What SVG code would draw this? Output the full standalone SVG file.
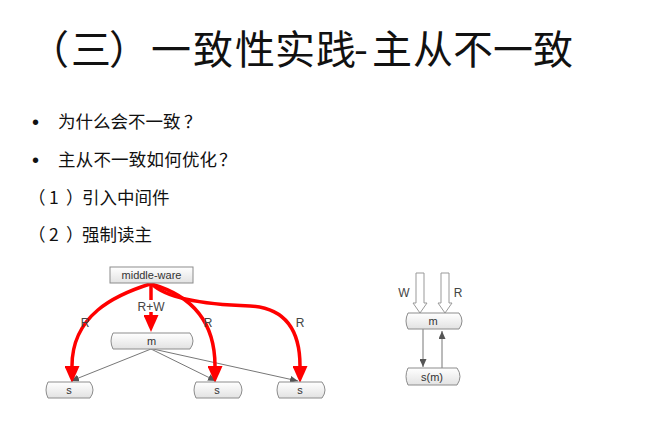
<svg xmlns="http://www.w3.org/2000/svg" width="660" height="438" viewBox="0 0 660 438">
<defs>
<linearGradient id="g" x1="0" y1="0" x2="0" y2="1">
<stop offset="0" stop-color="#ffffff"/>
<stop offset="1" stop-color="#e2e2e2"/>
</linearGradient>
<marker id="red" markerUnits="userSpaceOnUse" markerWidth="17" markerHeight="15" refX="0" refY="7.5" orient="auto" viewBox="0 0 17 15">
<path d="M0,0 L17,7.5 L0,15 Z" fill="#ff0000"/>
</marker>
<marker id="gray" markerUnits="userSpaceOnUse" markerWidth="8" markerHeight="7" refX="8" refY="3.5" orient="auto" viewBox="0 0 8 7">
<path d="M0,0 L8,3.5 L0,7 Z" fill="#555"/>
</marker>
</defs>
<style>
.cjk{font-family:"Noto Sans CJK SC","Noto Sans",sans-serif;fill:#111}
.dot{font-family:"Liberation Sans",Arial,sans-serif;font-size:20px;fill:#111}
.lbl{font-family:"Liberation Sans",Arial,sans-serif;font-size:12px;fill:#444;text-anchor:middle}
.nt{font-family:"Liberation Sans",Arial,sans-serif;font-size:11px;fill:#333;text-anchor:middle}
.box{fill:url(#g);stroke:#8c8c8c;stroke-width:1}
.red{fill:none;stroke:#ff0000;stroke-width:3.5;marker-end:url(#red)}
.thin{fill:none;stroke:#777;stroke-width:1;marker-end:url(#gray)}
.hollow{fill:#fff;stroke:#999;stroke-width:1}
</style>
<rect width="660" height="438" fill="#fff"/>

<g id="title">
<text class="cjk" font-size="40" x="29 71 109 151 193 235 275 316 354 372 413 453 493 533" y="64">（三）一致性实践-主从不一致</text>
</g>

<g id="bullets">
<text class="dot" x="32" y="129">•</text>
<text class="cjk" font-size="17.5" x="58 75.5 93 110.5 128 145.5 163 184" y="128">为什么会不一致？</text>
<text class="dot" x="32" y="167">•</text>
<text class="cjk" font-size="17.5" x="58 75.7 93.4 111.1 128.8 146.5 164.2 181.9 199.6 219" y="166">主从不一致如何优化？</text>
<text class="cjk" font-size="17.5" x="28 49 66 82" y="204">（1）引入中间件</text>
<text class="cjk" font-size="17.5" x="28 49 66 82" y="241">（2）强制读主</text>
</g>

<g id="connectors">
<line class="thin" x1="151" y1="349" x2="71" y2="381"/>
<line class="thin" x1="151" y1="349" x2="216" y2="381"/>
<line class="thin" x1="153" y1="349" x2="298" y2="381"/>
<path class="red" d="M150,284 C115,295 72,315 72,366"/>
<path class="red" d="M151,284 C190,295 215,320 215,366"/>
<path class="red" d="M152,284 C170,302 220,305 250,306 C285,308 300,330 300,366"/>
<path class="red" d="M151,283 L151,315"/>
<line class="thin" x1="423" y1="329" x2="423" y2="367"/>
<line class="thin" x1="442" y1="368" x2="442" y2="331"/>
<polygon class="hollow" points="416,273 424,273 424,303 427,303 420,313 413,303 416,303"/>
<polygon class="hollow" points="441,273 449,273 449,303 452,303 445,313 438,303 441,303"/>
</g>

<g id="labels">
<text class="lbl" x="85" y="327">R</text>
<rect x="137" y="300" width="28" height="12" fill="#fff"/>
<text class="lbl" x="151" y="311">R+W</text>
<text class="lbl" x="208" y="327">R</text>
<text class="lbl" x="300" y="327">R</text>
<text class="lbl" x="404" y="297">W</text>
<text class="lbl" x="458" y="297">R</text>
</g>

<g id="node-middleware">
<rect class="box" x="110" y="267" width="83" height="16"/>
<text class="nt" x="151.5" y="279" font-size="10.5">middle-ware</text>
</g>

<g id="node-m">
<path class="box" d="M113,333 H190 Q196,341 190,349 H113 Q109,341 113,333 Z"/>
<text class="nt" x="151.5" y="345" fill="#4a3030">m</text>
</g>

<g id="node-s1">
<path class="box" d="M48,382 H90 Q96,390 90,398 H48 Q44,390 48,382 Z"/>
<text class="nt" x="69" y="394">s</text>
</g>

<g id="node-s2">
<path class="box" d="M196,382 H239 Q245,390 239,398 H196 Q192,390 196,382 Z"/>
<text class="nt" x="217" y="394">s</text>
</g>

<g id="node-s3">
<path class="box" d="M279,382 H322 Q328,390 322,398 H279 Q275,390 279,382 Z"/>
<text class="nt" x="300" y="394">s</text>
</g>

<g id="node-m2">
<path class="box" d="M408,313 H459 Q465,321 459,329 H408 Q404,321 408,313 Z"/>
<text class="nt" x="433" y="325">m</text>
</g>

<g id="node-sm">
<path class="box" d="M408,368 H457 Q463,376.5 457,385 H408 Q404,376.5 408,368 Z"/>
<text class="nt" x="432" y="381">s(m)</text>
</g>
</svg>
